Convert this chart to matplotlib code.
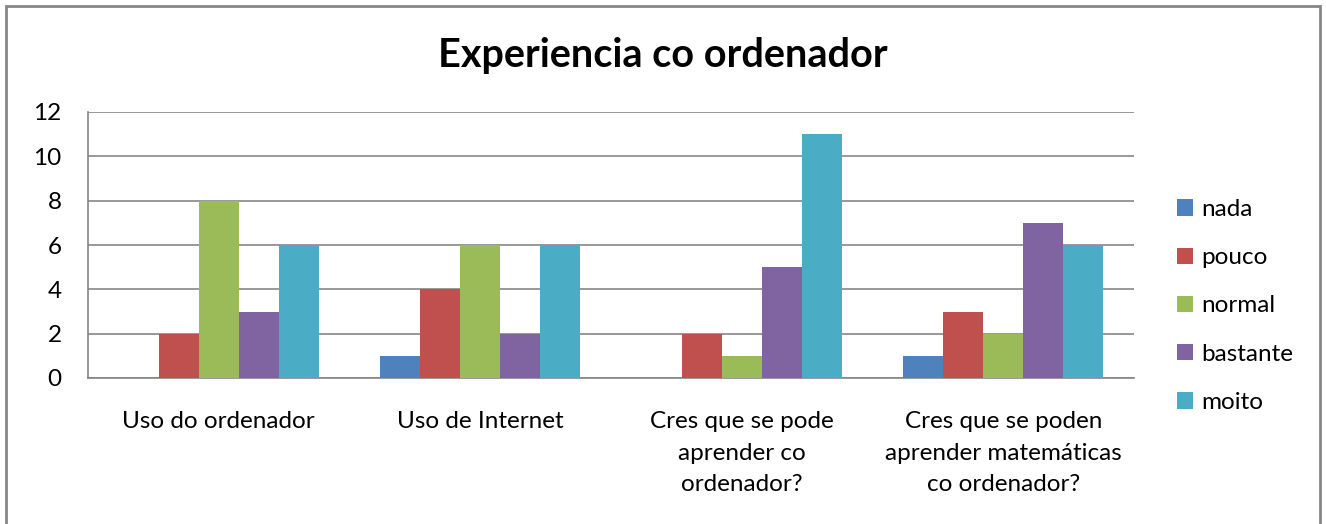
import numpy as np
import matplotlib.pyplot as plt
from matplotlib.patches import Rectangle

categorias = ['Uso do ordenador', 'Uso de Internet',
              'Cres que se pode\naprender co\nordenador?',
              'Cres que se poden\naprender matemáticas\nco ordenador?']
series = ['nada', 'pouco', 'normal', 'bastante', 'moito']
nada = [0, 1, 0, 1]
pouco = [2, 4, 2, 3]
normal = [8, 6, 1, 2]
bastante = [3, 2, 5, 7]
moito = [6, 6, 11, 6]
cores = ['#4F81BD', '#C0504D', '#9BBB59', '#8064A2', '#4BACC6']

plt.rcParams['font.family'] = ['Lato', 'DejaVu Sans']

fig = plt.figure(figsize=(13.26, 5.24), dpi=100)
ax = fig.add_axes([88/1326, 1-378/524, (1134-88)/1326, (378-112)/524])

x = np.arange(len(categorias))
w = 40/261.5
valores = [nada, pouco, normal, bastante, moito]
for i, (nome, v) in enumerate(zip(series, valores)):
    ax.bar(x + (i - 2) * w, v, w, color=cores[i], label=nome, zorder=3)

ax.set_xlim(-0.5, 3.5)
ax.set_ylim(0, 12)
ax.set_yticks(range(0, 13, 2))
ax.set_xticks(x)
ax.set_xticklabels(categorias, linespacing=1.6)
ax.tick_params(axis='both', length=0, labelsize=17.5, colors='black')
ax.tick_params(axis='x', pad=24)
ax.tick_params(axis='y', pad=19)
ax.yaxis.grid(True, color='#868686', linewidth=1.2, zorder=0)
for s in ['top', 'right']:
    ax.spines[s].set_visible(False)
for s in ['left', 'bottom']:
    ax.spines[s].set_color('#868686')
    ax.spines[s].set_linewidth(1.2)

fig.text(663/1326, 1-55/524, 'Experiencia co ordenador', ha='center', va='center',
         fontsize=28.5, fontweight='bold')

fig.legend(loc='center left', bbox_to_anchor=(1155/1326, 1-306/524), frameon=False,
           fontsize=17.5, handlelength=0.65, handleheight=0.65, handletextpad=0.35,
           labelspacing=1.12)

fig.patches.append(Rectangle((6/1326, -0.05), (1320-6)/1326, 1.05-6/524,
                             transform=fig.transFigure, fill=False,
                             edgecolor='#868686', linewidth=2))

fig.savefig('out.png', dpi=100)
